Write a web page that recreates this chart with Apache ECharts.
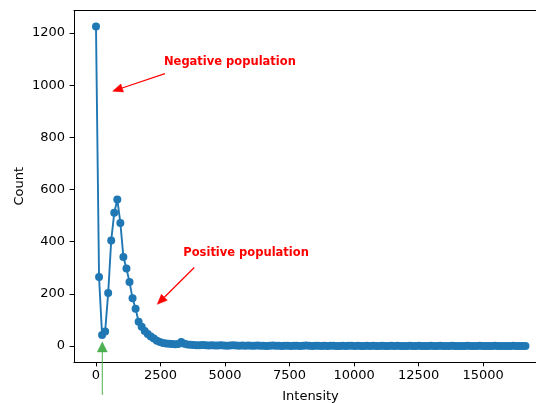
<!DOCTYPE html>
<html><head><meta charset="utf-8">
<script src="https://cdn.jsdelivr.net/npm/echarts@6/dist/echarts.min.js"></script>
<style>html,body{margin:0;padding:0;background:#fff}#c{width:536px;height:403px}</style>
</head><body><div id="c"></div>
<script>
// ---- data ----
const binWidth = 118;
const counts = [1225,265,42,56,203,405,511,562,472,341,
  297,246,183,143,93,74,58,46,37,29,
  20,16,12,10,9,8,7,8,16,9,
  6,5,4,3,
  3,4,3,2,3,2,2,3,2,1,
  2,3,2,1,2,1,2,1,1,2,
  1,1,0,1,2,1,1,0,1,1,
  0,1,1,0,1,2,1,0,1,1,
  0,1,0,1,1,0,0,1,0,1,
  1,0,1,0,0,1,0,1,0,0,
  1,0,0,1,0,1,0,0,0,1,
  0,0,1,0,0,0,1,0,0,1,
  0,0,0,1,0,0,0,0,1,0,
  0,0,1,0,0,0,0,1,0,0,
  0,0,0,1,0,0,0,0];
const xTicks = [0,2500,5000,7500,10000,12500,15000];
const yTicks = [0,200,400,600,800,1000,1200];
const labelTexts = ['Negative population','Positive population'];
const labelPos = [[2633,1090],[3381,358]];
const redArrowFrom = [[2672,1044],[3807,301]];
const redArrowTo = [[647,977],[2374,160]];
const greenFrom = [244,-187];
const greenTo = [244,16];

// ---- chart ----
const data = counts.map((c,i)=>[i*binWidth, c]);
const FONT = '"DejaVu Sans", sans-serif';
const FS = 13;
const chart = echarts.init(document.getElementById('c'), null, {renderer:'canvas'});
chart.setOption({
  animation:false,
  backgroundColor:'#fff',
  grid:{left:74, top:10.5, width:473, height:351.5, show:false, containLabel:false, outerBoundsMode:'none'},
  xAxis:[{type:'value', min:-852, max:17473,
    name:'Intensity', nameLocation:'middle', nameGap:28, nameMoveOverlap:false,
    nameTextStyle:{color:'#000', fontSize:FS, fontFamily:FONT},
    axisLine:{onZero:false, lineStyle:{color:'#000', width:1}},
    axisTick:{customValues:xTicks, length:4.4, lineStyle:{color:'#000', width:1}},
    axisLabel:{customValues:xTicks, formatter:v=>String(v), color:'#000', fontSize:FS, fontFamily:FONT, margin:7},
    splitLine:{show:false}},
    {type:'value', position:'top', min:-852, max:17473,
    axisLine:{show:true, onZero:false, lineStyle:{color:'#000', width:1}},
    axisTick:{show:false}, axisLabel:{show:false}, splitLine:{show:false}}],
  yAxis:{type:'value', min:-61, max:1286,
    name:'Count', nameLocation:'middle', nameGap:48, nameMoveOverlap:false,
    nameTextStyle:{color:'#000', fontSize:FS, fontFamily:FONT},
    axisLine:{show:true, onZero:false, lineStyle:{color:'#000', width:1}},
    axisTick:{show:true, customValues:yTicks, length:4.4, lineStyle:{color:'#000', width:1}},
    axisLabel:{customValues:yTicks, formatter:v=>String(v), color:'#000', fontSize:FS, fontFamily:FONT, margin:9},
    splitLine:{show:false}},
  series:[{type:'line', data:data, xAxisIndex:0, symbol:'circle', symbolSize:8, showSymbol:true, showAllSymbol:true,
    lineStyle:{color:'#1f77b4', width:1.9}, itemStyle:{color:'#1f77b4'}, clip:false, z:3}]
});

function px(p){ return chart.convertToPixel({xAxisIndex:0, yAxisIndex:0}, p); }
function arrow(fromD, toD, color, lw, headLen, headHalf){
  const a = px(fromD), b = px(toD);
  const dx = b[0]-a[0], dy = b[1]-a[1];
  const L = Math.sqrt(dx*dx+dy*dy);
  const ux = dx/L, uy = dy/L;
  const bx = b[0]-ux*headLen, by = b[1]-uy*headLen;
  return [
    {type:'line', shape:{x1:a[0], y1:a[1], x2:bx, y2:by}, style:{stroke:color, lineWidth:lw}, z:10},
    {type:'polygon', shape:{points:[[b[0],b[1]],[bx-uy*headHalf, by+ux*headHalf],[bx+uy*headHalf, by-ux*headHalf]]}, style:{fill:color, stroke:color, lineWidth:0.5}, z:10}
  ];
}
const g = [];
labelTexts.forEach((t,i)=>{
  const p = px(labelPos[i]);
  g.push({type:'text', x:p[0], y:p[1], z:10, style:{text:t, fill:'#ff0000', font:'bold 11.5px "DejaVu Sans", sans-serif', align:'left', verticalAlign:'middle'}});
  arrow(redArrowFrom[i], redArrowTo[i], '#ff0000', 1.2, 10, 4.2).forEach(e=>g.push(e));
});
arrow(greenFrom, greenTo, '#4caf50', 1, 10, 5).forEach(e=>g.push(e));
chart.setOption({graphic:{elements:g}});
</script>
</body></html>
